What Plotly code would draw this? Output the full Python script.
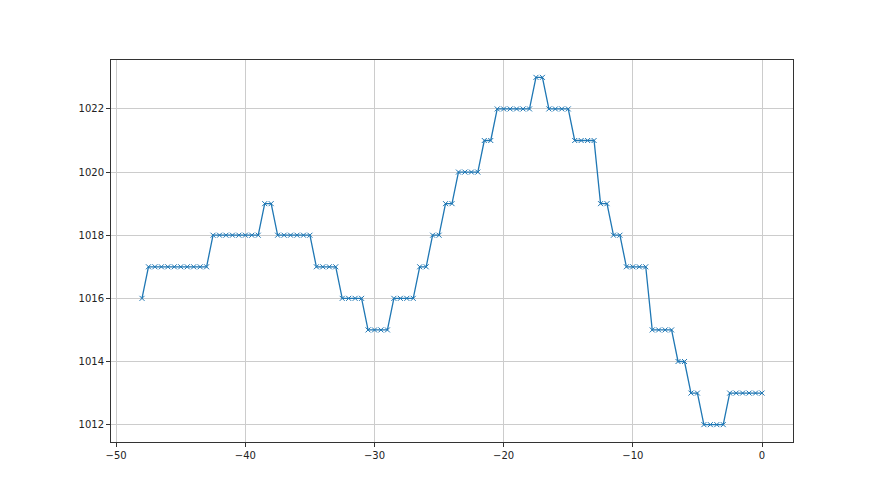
import plotly.graph_objects as go

# hours relative to now, 0.5 h steps
hours = [h * 0.5 for h in range(-96, 1)]

# pressure readings (hPa), grouped by runs of equal value
runs = [
    (1016, 1), (1017, 10), (1018, 8), (1019, 2), (1018, 6), (1017, 4),
    (1016, 4), (1015, 4), (1016, 4), (1017, 2), (1018, 2), (1019, 2),
    (1020, 4), (1021, 2), (1022, 6), (1023, 2), (1022, 4), (1021, 4),
    (1019, 2), (1018, 2), (1017, 4), (1015, 4), (1014, 2), (1013, 2),
    (1012, 4), (1013, 6),
]
pressure = [v for v, n in runs for _ in range(n)]

fig = go.Figure(
    go.Scatter(
        x=hours,
        y=pressure,
        mode='lines+markers',
        line=dict(color='#1f77b4', width=1.3),
        marker=dict(symbol='x-thin', size=5, line=dict(color='#1f77b4', width=1)),
    )
)

axis_style = dict(
    showline=True, linecolor='#333333', linewidth=1, mirror=True,
    ticks='outside', ticklen=4, tickwidth=1, tickcolor='#333333',
    showgrid=True, gridcolor='#cccccc', gridwidth=1,
    zeroline=False,
    tickfont=dict(family='DejaVu Sans', size=10, color='#222222'),
)

# page body adds ~7px offset, so margins are shifted to compensate
fig.update_layout(
    width=880, height=495,
    margin=dict(l=103, r=95, t=52, b=61),
    paper_bgcolor='white', plot_bgcolor='white',
    showlegend=False,
    xaxis=dict(range=[-50.4, 2.4], tick0=0, dtick=10, **axis_style),
    yaxis=dict(range=[1011.45, 1023.55], tick0=1012, dtick=2, **axis_style),
)

fig.write_html("out.html")
